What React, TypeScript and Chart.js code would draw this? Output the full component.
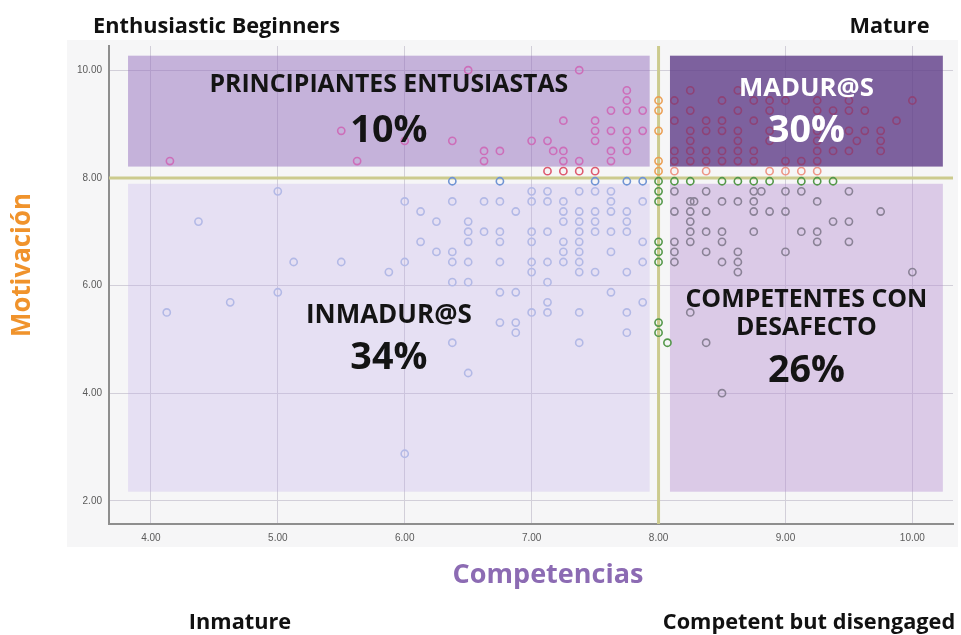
import React, { useEffect, useRef } from "react";
import { Chart, registerables } from "chart.js";

Chart.register(...registerables);

// ---------- data ----------
const xTickValues = [4, 5, 6, 7, 8, 9, 10];
const yTickValues = [2, 4, 6, 8, 10];
const xRange = [3.67, 10.32];
const yRange = [1.57, 10.45];
const cutX = 8;
const cutY = 8;

const quadrantTitles = ["PRINCIPIANTES ENTUSIASTAS", "MADUR@S", "INMADUR@S", "COMPETENTES CON|DESAFECTO"];
const quadrantShares = ["10%", "30%", "34%", "26%"];
const cornerLabels = ["Enthusiastic Beginners", "Mature", "Inmature", "Competent but disengaged"];
const xTitle = "Competencias";
const yTitle = "Motivación";

// quadrant boxes in data units: [xMin, xMax, yMin, yMax]
const boxTopLeft = [3.82, 7.93, 8.21, 10.27];
const boxTopRight = [8.09, 10.24, 8.21, 10.27];
const boxBottomLeft = [3.82, 7.93, 2.17, 7.89];
const boxBottomRight = [8.09, 10.24, 2.17, 7.89];

const beginnersPoints: [number, number][] = [
  [4.15, 8.3125], [5.5, 8.875], [5.625, 8.3125], [6.0, 8.6875], [6.375, 8.6875], [6.5, 10],
  [6.625, 8.5], [6.625, 8.3125], [6.75, 8.5], [7.0, 8.6875], [7.125, 8.6875], [7.17, 8.5],
  [7.25, 9.0625], [7.25, 8.5], [7.25, 8.3125], [7.375, 10], [7.375, 8.3125], [7.5, 9.0625],
  [7.5, 8.875], [7.5, 8.6875], [7.625, 9.25], [7.625, 8.875], [7.625, 8.5], [7.625, 8.3125],
  [7.75, 9.625], [7.75, 9.4375], [7.75, 9.25], [7.75, 8.875], [7.75, 8.6875], [7.75, 8.5],
  [7.875, 9.25], [7.875, 8.875],
];

const beginnersEdgePoints: [number, number][] = [
  [7.125, 8.125], [7.25, 8.125], [7.375, 8.125], [7.5, 8.125],
];

const immatureEdgePoints: [number, number][] = [
  [6.375, 7.9375], [6.75, 7.9375], [7.5, 7.9375], [7.75, 7.9375], [7.875, 7.9375],
];

const immaturePoints: [number, number][] = [
  [5.0, 7.75], [7.0, 7.75], [7.125, 7.75], [7.375, 7.75], [7.5, 7.75], [7.625, 7.75],
  [6.0, 7.5625], [6.375, 7.5625], [6.625, 7.5625], [6.75, 7.5625], [7.0, 7.5625], [7.125, 7.5625],
  [7.25, 7.5625], [7.625, 7.5625], [7.875, 7.5625],
  [6.125, 7.375], [6.875, 7.375], [7.25, 7.375], [7.375, 7.375], [7.5, 7.375], [7.625, 7.375], [7.75, 7.375],
  [4.375, 7.1875], [6.25, 7.1875], [6.5, 7.1875], [7.25, 7.1875], [7.375, 7.1875], [7.5, 7.1875], [7.75, 7.1875],
  [6.5, 7.0], [6.625, 7.0], [6.75, 7.0], [7.0, 7.0], [7.125, 7.0], [7.375, 7.0], [7.5, 7.0], [7.625, 7.0], [7.75, 7.0],
  [6.125, 6.8125], [6.5, 6.8125], [6.75, 6.8125], [7.0, 6.8125], [7.25, 6.8125], [7.375, 6.8125], [7.875, 6.8125],
  [6.25, 6.625], [6.375, 6.625], [7.25, 6.625], [7.375, 6.625], [7.625, 6.625],
  [5.125, 6.4375], [5.5, 6.4375], [6.0, 6.4375], [6.375, 6.4375], [6.5, 6.4375], [6.75, 6.4375],
  [7.0, 6.4375], [7.125, 6.4375], [7.25, 6.4375], [7.375, 6.4375], [7.875, 6.4375],
  [5.875, 6.25], [7.0, 6.25], [7.375, 6.25], [7.5, 6.25], [7.75, 6.25],
  [6.375, 6.0625], [6.5, 6.0625], [7.125, 6.0625],
  [5.0, 5.875], [6.75, 5.875], [6.875, 5.875], [7.625, 5.875],
  [4.625, 5.6875], [7.125, 5.6875], [7.875, 5.6875],
  [4.125, 5.5], [7.0, 5.5], [7.125, 5.5], [7.375, 5.5], [7.75, 5.5],
  [6.75, 5.3125], [6.875, 5.3125],
  [6.875, 5.125], [7.75, 5.125],
  [6.375, 4.9375], [7.375, 4.9375],
  [6.5, 4.375], [6.0, 2.875],
];

const cutColumnUpperPoints: [number, number][] = [
  [8, 9.4375], [8, 9.25], [8, 8.875], [8, 8.3125], [8, 8.125],
];

const maturePoints: [number, number][] = [
  [8.25, 9.625], [8.625, 9.625],
  [8.125, 9.4375], [8.5, 9.4375], [8.75, 9.4375], [8.875, 9.4375], [9.0, 9.4375], [9.25, 9.4375], [9.5, 9.4375], [10.0, 9.4375],
  [8.25, 9.25], [8.625, 9.25], [8.875, 9.25], [9.25, 9.25], [9.375, 9.25], [9.5, 9.25], [9.625, 9.25],
  [8.125, 9.0625], [8.375, 9.0625], [8.5, 9.0625], [8.75, 9.0625], [9.875, 9.0625],
  [8.25, 8.875], [8.375, 8.875], [8.5, 8.875], [8.625, 8.875], [8.875, 8.875], [9.25, 8.875], [9.5, 8.875], [9.625, 8.875], [9.75, 8.875],
  [8.25, 8.6875], [8.625, 8.6875], [8.875, 8.6875], [9.25, 8.6875], [9.5625, 8.6875], [9.75, 8.6875],
  [8.125, 8.5], [8.25, 8.5], [8.375, 8.5], [8.5, 8.5], [8.625, 8.5], [8.75, 8.5], [9.25, 8.5], [9.375, 8.5], [9.5, 8.5], [9.75, 8.5],
  [8.125, 8.3125], [8.25, 8.3125], [8.375, 8.3125], [8.5, 8.3125], [8.625, 8.3125], [8.75, 8.3125], [9.0, 8.3125], [9.125, 8.3125], [9.25, 8.3125],
];

const matureEdgePoints: [number, number][] = [
  [8.125, 8.125], [8.375, 8.125], [8.875, 8.125], [9.0, 8.125], [9.125, 8.125], [9.25, 8.125],
];

const disengagedEdgePoints: [number, number][] = [
  [8.125, 7.9375], [8.25, 7.9375], [8.5, 7.9375], [8.625, 7.9375], [8.75, 7.9375], [8.875, 7.9375],
  [9.125, 7.9375], [9.25, 7.9375], [9.375, 7.9375],
  [8, 7.9375], [8, 7.75], [8, 7.5625], [8, 6.8125], [8, 6.625], [8, 6.4375], [8, 5.3125], [8, 5.125], [8.07, 4.9375],
];

const disengagedPoints: [number, number][] = [
  [8.125, 7.75], [8.375, 7.75], [8.75, 7.75], [8.81, 7.75], [9.0, 7.75], [9.125, 7.75], [9.5, 7.75],
  [8.25, 7.5625], [8.28, 7.5625], [8.5, 7.5625], [8.625, 7.5625], [8.75, 7.5625], [9.25, 7.5625],
  [8.125, 7.375], [8.25, 7.375], [8.375, 7.375], [8.75, 7.375], [8.875, 7.375], [9.0, 7.375], [9.75, 7.375],
  [8.25, 7.1875], [9.375, 7.1875], [9.5, 7.1875],
  [8.25, 7.0], [8.375, 7.0], [8.5, 7.0], [8.75, 7.0], [9.125, 7.0], [9.25, 7.0],
  [8.125, 6.8125], [8.25, 6.8125], [8.5, 6.8125], [9.25, 6.8125], [9.5, 6.8125],
  [8.125, 6.625], [8.375, 6.625], [8.625, 6.625], [9.0, 6.625],
  [8.125, 6.4375], [8.5, 6.4375], [8.625, 6.4375],
  [8.625, 6.25], [10.0, 6.25],
  [8.25, 5.5], [8.375, 4.9375], [8.5, 4.0],
];

// ---------- styles ----------
const seriesStyles = [
  { points: immaturePoints, color: "#b3b9e6" },
  { points: disengagedPoints, color: "#8a8296" },
  { points: beginnersPoints, color: "#cd6eb9" },
  { points: maturePoints, color: "#8e4276" },
  { points: beginnersEdgePoints, color: "#de5a70" },
  { points: matureEdgePoints, color: "#ee9787" },
  { points: cutColumnUpperPoints, color: "#eba055" },
  { points: immatureEdgePoints, color: "#7094d4" },
  { points: disengagedEdgePoints, color: "#54984a" },
];

const LABEL_FONT = "'Open Sans', Lato, 'Liberation Sans', sans-serif";
const TITLE_FONT = "'Open Sans', 'Noto Sans', sans-serif";

// font size (px) for which `text` has the wanted width
function fitSize(ctx: CanvasRenderingContext2D, text: string, width: number, family: string) {
  ctx.font = `bold 100px ${family}`;
  const w = ctx.measureText(text).width || 1;
  return (100 * width) / w;
}

const quadrantPlugin = {
  id: "quadrants",
  beforeDraw(chart: any) {
    const ctx = chart.ctx;
    ctx.save();
    ctx.fillStyle = "#f6f6f7";
    ctx.fillRect(67, 40, 891, 507);
    ctx.restore();
  },
  beforeDatasetsDraw(chart: any) {
    const { ctx, scales } = chart;
    const xs = scales.x;
    const ys = scales.y;
    const box = (b: number[], fill: string) => {
      const x0 = xs.getPixelForValue(b[0]);
      const x1 = xs.getPixelForValue(b[1]);
      const y0 = ys.getPixelForValue(b[3]);
      const y1 = ys.getPixelForValue(b[2]);
      ctx.fillStyle = fill;
      ctx.fillRect(x0, y0, x1 - x0, y1 - y0);
    };
    ctx.save();
    box(boxBottomLeft, "rgba(190,170,235,0.28)");
    box(boxBottomRight, "rgba(180,140,210,0.42)");
    box(boxTopLeft, "rgba(148,110,190,0.5)");
    box(boxTopRight, "rgba(95,60,135,0.8)");
    const ca = chart.chartArea;
    ctx.strokeStyle = "#cccb8e";
    ctx.lineWidth = 3;
    ctx.beginPath();
    const py = ys.getPixelForValue(cutY);
    ctx.moveTo(ca.left, py);
    ctx.lineTo(ca.right, py);
    const px = xs.getPixelForValue(cutX);
    ctx.moveTo(px, ca.top);
    ctx.lineTo(px, ca.bottom);
    ctx.stroke();
    ctx.restore();
  },
  afterDatasetsDraw(chart: any) {
    const { ctx, scales } = chart;
    const xs = scales.x;
    const ys = scales.y;
    const cx = (b: number[]) => (xs.getPixelForValue(b[0]) + xs.getPixelForValue(b[1])) / 2;
    const top = (b: number[]) => ys.getPixelForValue(b[3]);
    ctx.save();
    ctx.textAlign = "center";
    ctx.textBaseline = "alphabetic";

    const pctSize = fitSize(ctx, quadrantShares[0], 77, LABEL_FONT);
    const setSize = (s: number) => (ctx.font = `bold ${s}px ${LABEL_FONT}`);

    // top-left
    ctx.fillStyle = "#141414";
    setSize(fitSize(ctx, quadrantTitles[0], 359, LABEL_FONT));
    ctx.fillText(quadrantTitles[0], cx(boxTopLeft), top(boxTopLeft) + 36);
    setSize(pctSize);
    ctx.fillText(quadrantShares[0], cx(boxTopLeft), top(boxTopLeft) + 86);

    // top-right
    ctx.fillStyle = "#ffffff";
    setSize(fitSize(ctx, quadrantTitles[1], 135, LABEL_FONT));
    ctx.fillText(quadrantTitles[1], cx(boxTopRight), top(boxTopRight) + 40);
    setSize(pctSize);
    ctx.fillText(quadrantShares[1], cx(boxTopRight), top(boxTopRight) + 86);

    // bottom-left
    ctx.fillStyle = "#141414";
    setSize(fitSize(ctx, quadrantTitles[2], 166, LABEL_FONT));
    ctx.fillText(quadrantTitles[2], cx(boxBottomLeft), top(boxBottomLeft) + 139);
    setSize(pctSize);
    ctx.fillText(quadrantShares[2], cx(boxBottomLeft), top(boxBottomLeft) + 185);

    // bottom-right
    const lines = quadrantTitles[3].split("|");
    setSize(fitSize(ctx, lines[0], 242, LABEL_FONT));
    ctx.fillText(lines[0], cx(boxBottomRight), top(boxBottomRight) + 123);
    ctx.fillText(lines[1], cx(boxBottomRight), top(boxBottomRight) + 151);
    setSize(pctSize);
    ctx.fillText(quadrantShares[3], cx(boxBottomRight), top(boxBottomRight) + 198);
    ctx.restore();
  },
  afterDraw(chart: any) {
    const ctx = chart.ctx;
    ctx.save();
    ctx.textAlign = "center";
    ctx.textBaseline = "alphabetic";
    ctx.fillStyle = "#111111";
    const cornerSize = fitSize(ctx, cornerLabels[0], 247, LABEL_FONT);
    ctx.font = `bold ${cornerSize}px ${LABEL_FONT}`;
    ctx.fillText(cornerLabels[0], 216.5, 33);
    ctx.fillText(cornerLabels[1], 889.5, 33);
    ctx.fillText(cornerLabels[2], 240, 629);
    ctx.fillText(cornerLabels[3], 809, 629);

    // axis titles
    const ca = chart.chartArea;
    ctx.textBaseline = "middle";
    ctx.font = `bold ${fitSize(ctx, xTitle, 191, TITLE_FONT)}px ${TITLE_FONT}`;
    ctx.fillStyle = "#8c6bb3";
    ctx.fillText(xTitle, (ca.left + ca.right) / 2 + 17, 575);
    ctx.font = `bold ${fitSize(ctx, yTitle, 144, TITLE_FONT)}px ${TITLE_FONT}`;
    ctx.translate(23, 265);
    ctx.rotate(-Math.PI / 2);
    ctx.fillStyle = "#f0932c";
    ctx.fillText(yTitle, 0, 0);
    ctx.restore();
  },
};

export default function App() {
  const canvasRef = useRef<HTMLCanvasElement | null>(null);

  useEffect(() => {
    const canvas = canvasRef.current;
    if (!canvas) return;
    const tickFont = { family: "'Liberation Sans', Arial, sans-serif", size: 10 };
    const chart = new Chart(canvas, {
      type: "scatter",
      data: {
        datasets: seriesStyles.map((s, i) => ({
          label: "s" + i,
          data: s.points.map(([x, y]) => ({ x, y })),
          borderColor: s.color,
          backgroundColor: "rgba(0,0,0,0)",
          pointRadius: 3.6,
          pointHoverRadius: 3.6,
          pointBorderWidth: 1.6,
        })),
      },
      options: {
        responsive: false,
        animation: false,
        events: [],
        layout: { padding: { left: 69, right: 8, top: 46, bottom: 81 } },
        plugins: { legend: { display: false }, tooltip: { enabled: false } },
        scales: {
          x: {
            type: "linear",
            min: xRange[0],
            max: xRange[1],
            afterBuildTicks: (s: any) => {
              s.ticks = xTickValues.map((v) => ({ value: v }));
            },
            afterFit: (s: any) => {
              s.height = 30;
            },
            ticks: {
              color: "#5a5a5a",
              font: tickFont,
              padding: 8,
              maxRotation: 0,
              callback: (v: any) => Number(v).toFixed(2),
            },
            grid: { color: "#d2cfd9", lineWidth: 1, drawTicks: false },
            border: { color: "#8e8e8e", width: 2 },
          },
          y: {
            type: "linear",
            min: yRange[0],
            max: yRange[1],
            afterBuildTicks: (s: any) => {
              s.ticks = yTickValues.map((v) => ({ value: v }));
            },
            afterFit: (s: any) => {
              s.width = 40;
            },
            ticks: {
              color: "#5a5a5a",
              font: tickFont,
              padding: 7,
              callback: (v: any) => Number(v).toFixed(2),
            },
            grid: { color: "#d2cfd9", lineWidth: 1, drawTicks: false },
            border: { color: "#8e8e8e", width: 2 },
          },
        },
      } as any,
      plugins: [quadrantPlugin],
    });
    return () => chart.destroy();
  }, []);

  return (
    <div style={{ position: "fixed", left: 0, top: 0, width: 961, height: 635, background: "#ffffff" }}>
      <canvas ref={canvasRef} width={961} height={635} style={{ display: "block", width: 961, height: 635 }} />
    </div>
  );
}
